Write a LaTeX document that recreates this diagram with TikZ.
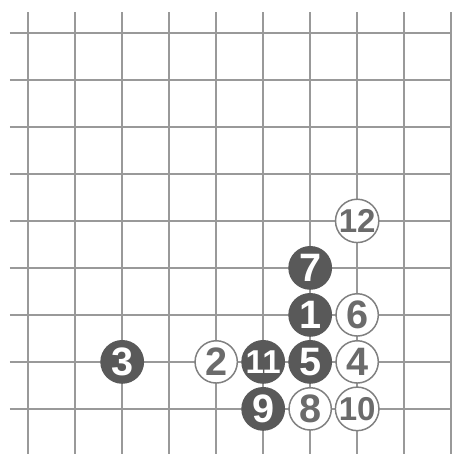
\documentclass[tikz,border=0pt]{standalone}
\usepackage{fontspec}
\setmainfont{Liberation Sans}
\usetikzlibrary{positioning}

\begin{document}
\begin{tikzpicture}[
    gridline/.style={draw=black!40, line width=0.9pt},
    stone/.style={circle, minimum size=0.9cm, inner sep=0pt, line width=0.9pt, font=\fontsize{24}{24}\selectfont\bfseries},
    blackstone/.style={stone, fill=black!65, draw=black!65, text=white},
    whitestone/.style={stone, fill=white, draw=black!50, text=black!58},
    twodigit/.style={font=\fontsize{20}{20}\selectfont\bfseries}
]
    \useasboundingbox (0,0) rectangle (9.6,-9.66);

    % Board
    \foreach \j in {0,...,8}
        \draw[gridline] (0.21,-0.7-\j) -- (9.6,-0.7-\j);
    \foreach \i in {0,...,9}
        \draw[gridline] (0.6+\i,-0.26) -- (0.6+\i,-9.66);

    % Stones
    \node[blackstone] (s1)  at (6.6,-6.7) {1};
    \node[whitestone] (s2)  at (4.6,-7.7) {2};
    \node[blackstone] (s3)  at (2.6,-7.7) {3};
    \node[whitestone] (s4)  at (7.6,-7.7) {4};
    \node[blackstone] (s5)  at (6.6,-7.7) {5};
    \node[whitestone] (s6)  at (7.6,-6.7) {6};
    \node[blackstone] (s7)  at (6.6,-5.7) {7};
    \node[whitestone] (s8)  at (6.6,-8.7) {8};
    \node[blackstone] (s9)  at (5.6,-8.7) {9};
    \node[whitestone, twodigit] (s10) at (7.6,-8.7) {10};
    \node[blackstone, twodigit] (s11) at (5.6,-7.7) {11};
    \node[whitestone, twodigit] (s12) at (7.6,-4.7) {12};
\end{tikzpicture}
\end{document}
